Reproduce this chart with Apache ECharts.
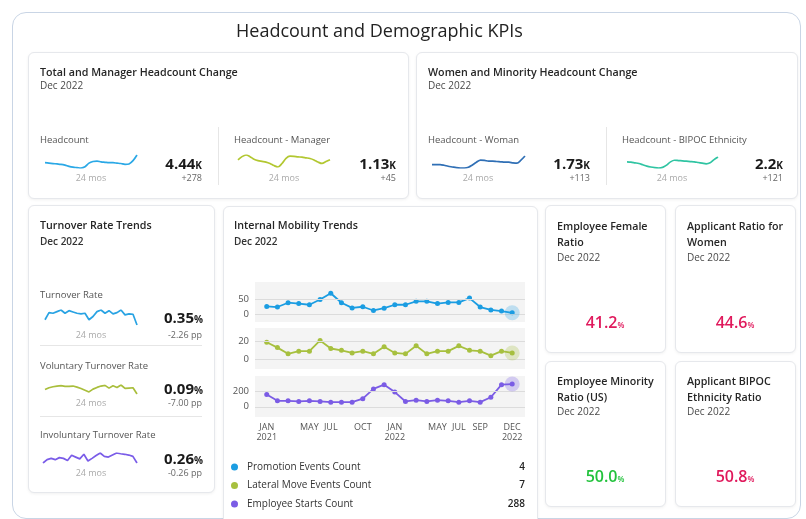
<!DOCTYPE html>
<html><head><meta charset="utf-8">
<script src="https://cdn.jsdelivr.net/npm/echarts@6/dist/echarts.min.js"></script>
<style>
html,body{margin:0;padding:0;background:#fff;width:806px;height:519px;overflow:hidden;font-family:"Open Sans",sans-serif;}
#frame{position:absolute;left:12px;top:12px;width:787px;height:505px;border:1px solid #c9d5e5;border-radius:14px;}
.card{position:absolute;background:#fff;border:1px solid #e6e8ec;border-radius:6px;box-shadow:0 1px 3px rgba(0,0,0,0.06);z-index:1;}
.t{position:absolute;white-space:nowrap;z-index:3;}
.h{font-size:10.7px;font-weight:600;color:#262626;line-height:14px;}
.d{font-size:10px;color:#4a4a4a;line-height:14px;}
.ds{font-size:10px;font-weight:600;color:#333;line-height:14px;}
.l{font-size:9.5px;color:#555;line-height:14px;}
.big{font-size:15px;font-weight:700;color:#1a1a1a;line-height:20px;}
.big span{font-size:10px;}
.sub{font-size:9px;color:#666;line-height:12px;}
.mos{font-size:9px;color:#aaa;line-height:12px;width:60px;text-align:center;}
.kv{font-size:16px;font-weight:600;line-height:20px;width:120px;text-align:center;}
.kv span{font-size:8px;}
.pink{color:#e0195c;}
.green{color:#22c23c;}
.div{position:absolute;background:#e6e6e6;z-index:3;}
#chart{position:absolute;left:0;top:0;width:806px;height:580px;z-index:2;}
</style>
</head>
<body>
<div id="frame"></div>
<div class="t" style="left:236px;top:18px;font-size:18px;line-height:24px;color:#222;">Headcount and Demographic KPIs</div>

<!-- card 1 -->
<div class="card" style="left:28px;top:52px;width:379px;height:145px"></div>
<div class="t h" style="left:40px;top:65px">Total and Manager Headcount Change</div>
<div class="t d" style="left:40px;top:78px">Dec 2022</div>
<div class="t l" style="left:40px;top:133px">Headcount</div>
<div class="t big" style="right:604px;top:153px">4.44<span>K</span></div>
<div class="t sub" style="right:604px;top:172px">+278</div>
<div class="t mos" style="left:61px;top:172px">24 mos</div>
<div class="div" style="left:218px;top:127px;width:1px;height:58px"></div>
<div class="t l" style="left:234px;top:133px">Headcount - Manager</div>
<div class="t big" style="right:410px;top:153px">1.13<span>K</span></div>
<div class="t sub" style="right:410px;top:172px">+45</div>
<div class="t mos" style="left:254px;top:172px">24 mos</div>

<!-- card 2 -->
<div class="card" style="left:416px;top:52px;width:380px;height:145px"></div>
<div class="t h" style="left:428px;top:65px">Women and Minority Headcount Change</div>
<div class="t d" style="left:428px;top:78px">Dec 2022</div>
<div class="t l" style="left:428px;top:133px">Headcount - Woman</div>
<div class="t big" style="right:216px;top:153px">1.73<span>K</span></div>
<div class="t sub" style="right:216px;top:172px">+113</div>
<div class="t mos" style="left:448px;top:172px">24 mos</div>
<div class="div" style="left:606px;top:127px;width:1px;height:58px"></div>
<div class="t l" style="left:622px;top:133px">Headcount - BIPOC Ethnicity</div>
<div class="t big" style="right:23px;top:153px">2.2<span>K</span></div>
<div class="t sub" style="right:23px;top:172px">+121</div>
<div class="t mos" style="left:642px;top:172px">24 mos</div>

<!-- card 3 -->
<div class="card" style="left:28px;top:205px;width:185px;height:286px"></div>
<div class="t h" style="left:40px;top:218px">Turnover Rate Trends</div>
<div class="t ds" style="left:40px;top:234px">Dec 2022</div>
<div class="t l" style="left:40px;top:288px">Turnover Rate</div>
<div class="t big" style="right:603px;top:307px">0.35<span>%</span></div>
<div class="t sub" style="right:604px;top:329px">-2.26 pp</div>
<div class="t mos" style="left:61px;top:329px">24 mos</div>
<div class="div" style="left:40px;top:345px;width:162px;height:1px"></div>
<div class="t l" style="left:40px;top:359px">Voluntary Turnover Rate</div>
<div class="t big" style="right:603px;top:378px">0.09<span>%</span></div>
<div class="t sub" style="right:604px;top:397px">-7.00 pp</div>
<div class="t mos" style="left:61px;top:397px">24 mos</div>
<div class="div" style="left:40px;top:416px;width:162px;height:1px"></div>
<div class="t l" style="left:40px;top:428px">Involuntary Turnover Rate</div>
<div class="t big" style="right:603px;top:448px">0.26<span>%</span></div>
<div class="t sub" style="right:604px;top:467px">-0.26 pp</div>
<div class="t mos" style="left:61px;top:467px">24 mos</div>

<!-- card 4 -->
<div class="card" style="left:223px;top:206px;width:313px;height:330px"></div>
<div class="t h" style="left:234px;top:218px">Internal Mobility Trends</div>
<div class="t ds" style="left:234px;top:234px">Dec 2022</div>

<!-- KPI cards -->
<div class="card" style="left:545px;top:205px;width:119px;height:146px"></div>
<div class="t h" style="left:557px;top:218px;line-height:16px">Employee Female<br>Ratio</div>
<div class="t d" style="left:557px;top:250px">Dec 2022</div>
<div class="t kv pink" style="left:545px;top:312px">41.2<span>%</span></div>

<div class="card" style="left:675px;top:205px;width:119px;height:146px"></div>
<div class="t h" style="left:687px;top:218px;line-height:16px">Applicant Ratio for<br>Women</div>
<div class="t d" style="left:687px;top:250px">Dec 2022</div>
<div class="t kv pink" style="left:675px;top:312px">44.6<span>%</span></div>

<div class="card" style="left:545px;top:361px;width:119px;height:144px"></div>
<div class="t h" style="left:557px;top:373px;line-height:16px">Employee Minority<br>Ratio (US)</div>
<div class="t d" style="left:557px;top:404px">Dec 2022</div>
<div class="t kv green" style="left:545px;top:466px">50.0<span>%</span></div>

<div class="card" style="left:675px;top:361px;width:119px;height:144px"></div>
<div class="t h" style="left:687px;top:373px;line-height:16px">Applicant BIPOC<br>Ethnicity Ratio</div>
<div class="t d" style="left:687px;top:404px">Dec 2022</div>
<div class="t kv pink" style="left:675px;top:466px">50.8<span>%</span></div>

<div id="chart"></div>
<script>
// ---- data ----
const months = ['Jan 2021','Feb 2021','Mar 2021','Apr 2021','May 2021','Jun 2021','Jul 2021','Aug 2021','Sep 2021','Oct 2021','Nov 2021','Dec 2021',
  'Jan 2022','Feb 2022','Mar 2022','Apr 2022','May 2022','Jun 2022','Jul 2022','Aug 2022','Sep 2022','Oct 2022','Nov 2022','Dec 2022'];
const tickMonthIdx = [0,4,6,9,12,16,18,20,23];
const tickLabels = ['JAN\n2021','MAY','JUL','OCT','JAN\n2022','MAY','JUL','SEP','DEC\n2022'];
const seriesNames = ['Promotion Events Count','Lateral Move Events Count','Employee Starts Count'];
const promotion = [26,24,39,36,32,50,72,39,21,25,12,20,32,32,44,44,36,40,40,55,24,14,10,4];
const lateral   = [19,13,6,9,9,21,12,10,7,9,6,14,7,6,15,6,9,9,15,10,9,4,9,7];
const starts    = [155,75,75,67,75,67,58,58,58,102,226,280,186,67,84,67,84,75,58,75,58,120,280,288];
const promoTicks = [0,50];
const lateralTicks = [0,20];
const startsTicks = [0,200];

const headcount      = [4250,4240,4230,4220,4210,4190,4160,4140,4130,4120,4150,4240,4280,4290,4270,4260,4250,4250,4240,4230,4210,4220,4300,4440];
const headcountMgr   = [1129,1143,1150,1143,1132,1126,1123,1120,1114,1105,1099,1114,1136,1145,1144,1142,1141,1138,1135,1129,1120,1114,1122,1130];
const headcountWoman = [1655,1655,1655,1649,1640,1634,1628,1625,1625,1631,1652,1676,1694,1691,1685,1685,1682,1679,1676,1676,1670,1667,1694,1730];
const headcountBipoc = [2140,2136,2128,2120,2104,2088,2076,2068,2064,2072,2100,2140,2160,2156,2152,2148,2144,2140,2132,2124,2116,2128,2168,2200];
const turnoverRate    = [1.45,2.95,2.82,3.16,3.50,2.82,3.36,3.09,2.82,2.68,2.82,1.45,2.13,3.16,3.50,2.82,3.36,2.68,2.95,3.50,2.47,2.68,2.61,0.35];
const voluntaryRate   = [1.39,1.89,2.19,2.39,2.49,2.29,2.29,2.39,2.09,1.69,1.19,0.69,1.49,1.99,2.39,2.59,1.79,2.49,1.99,2.69,1.69,1.79,1.89,0.09];
const involuntaryRate = [0.26,0.39,0.44,0.39,0.47,0.44,0.36,0.56,0.49,0.42,0.60,0.34,0.44,0.55,0.65,0.52,0.49,0.57,0.65,0.62,0.60,0.57,0.52,0.26];

// ---- chart ----
const FONT = '"Open Sans", sans-serif';
const mobColors = ['#1b9de2','#a7c03f','#7b5ce5'];
const haloColors = ['rgba(27,157,226,0.25)','rgba(167,192,63,0.28)','rgba(123,92,229,0.28)'];
const mobData = [promotion, lateral, starts];
const mobTicks = [promoTicks, lateralTicks, startsTicks];
const mobRange = [[-28,111],[-11,35],[-130,390]];
const mobGrids = [{top:282,height:40},{top:328,height:41},{top:376,height:41}];

const grids = [], xAxes = [], yAxes = [], series = [];
mobGrids.forEach((g, i) => {
  grids.push({left:255, width:270, top:g.top, height:g.height, show:true, backgroundColor:'#f4f4f4', borderWidth:0});
  xAxes.push({
    gridIndex:i, type:'value', min:-1.1, max:24.2, show: i===2,
    axisLine:{show:false}, axisTick:{show:false}, splitLine:{show:false},
    axisLabel:{customValues:tickMonthIdx, formatter:v => tickLabels[tickMonthIdx.indexOf(v)] || '',
      fontSize:9, color:'#555', lineHeight:10, margin:5, fontFamily:FONT}
  });
  yAxes.push({
    gridIndex:i, type:'value', min:mobRange[i][0], max:mobRange[i][1],
    axisLine:{show:false}, axisTick:{show:false}, splitLine:{show:false},
    axisLabel:{customValues:mobTicks[i], fontSize:9.5, color:'#555', margin:6, fontFamily:FONT}
  });
  const arr = mobData[i];
  series.push({
    name: seriesNames[i], type:'line', xAxisIndex:i, yAxisIndex:i,
    data: arr.map((v, k) => [k, v]),
    symbol:'circle', symbolSize:5, showAllSymbol:true,
    lineStyle:{width:1.8, color:mobColors[i]}, itemStyle:{color:mobColors[i]},
    markLine:{silent:true, symbol:['none','none'], label:{show:false},
      lineStyle:{color:'#dcdcdc', width:1, type:'solid'},
      data: mobTicks[i].map(t => ({yAxis:t}))},
    markPoint:{silent:true, symbol:'circle', symbolSize:15, label:{show:false},
      itemStyle:{color:haloColors[i]},
      data:[{coord:[arr.length-1, arr[arr.length-1]]}]}
  });
});

const sparks = [
  {d:headcount,      c:'#2aa8e6', box:{left:45, top:155, width:92, height:13}, smooth:true},
  {d:headcountMgr,   c:'#b2c730', box:{left:238,top:155, width:92, height:12}, smooth:true},
  {d:headcountWoman, c:'#2f6fb5', box:{left:432,top:156, width:93, height:12}, smooth:true},
  {d:headcountBipoc, c:'#2fc4a2', box:{left:627,top:157, width:91, height:11}, smooth:true},
  {d:turnoverRate,   c:'#29a3e3', box:{left:45, top:310, width:92, height:15}, smooth:false},
  {d:voluntaryRate,  c:'#a9be3c', box:{left:45, top:385, width:92, height:9},  smooth:false},
  {d:involuntaryRate,c:'#7a5ce8', box:{left:43, top:453, width:94, height:10}, smooth:false}
];
sparks.forEach((s, j) => {
  const gi = 3 + j;
  grids.push(Object.assign({show:false}, s.box));
  xAxes.push({gridIndex:gi, type:'category', data:months, boundaryGap:false, show:false});
  yAxes.push({gridIndex:gi, type:'value', show:false, min:v => v.min, max:v => v.max});
  series.push({type:'line', xAxisIndex:gi, yAxisIndex:gi, data:s.d, showSymbol:false, smooth:s.smooth ? 0.3 : false,
    lineStyle:{width:1.7, color:s.c}, silent:true});
});

const lastVals = {};
seriesNames.forEach((n, i) => { lastVals[n] = mobData[i][mobData[i].length - 1]; });

const chart = echarts.init(document.getElementById('chart'), null, {renderer:'canvas'});
chart.setOption({
  animation:false,
  textStyle:{fontFamily:FONT},
  grid: grids, xAxis: xAxes, yAxis: yAxes, series: series,
  legend:{
    orient:'vertical', left:226, top:456, height:100, itemWidth:7, itemHeight:7, itemGap:6.5, icon:'circle',
    data: seriesNames.map((n, i) => ({name:n, itemStyle:{color:mobColors[i]}})),
    selectedMode:false,
    formatter: n => `{n|${n}}{v|${lastVals[n]}}`,
    textStyle:{fontFamily:FONT, fontSize:10, color:'#333', lineHeight:12,
      rich:{n:{width:254, fontSize:10, color:'#333', padding:[0,0,0,4], lineHeight:12, fontFamily:FONT},
            v:{width:24, align:'right', fontSize:10, fontWeight:600, color:'#222', lineHeight:12, fontFamily:FONT}}}
  }
});
</script>
</body></html>
